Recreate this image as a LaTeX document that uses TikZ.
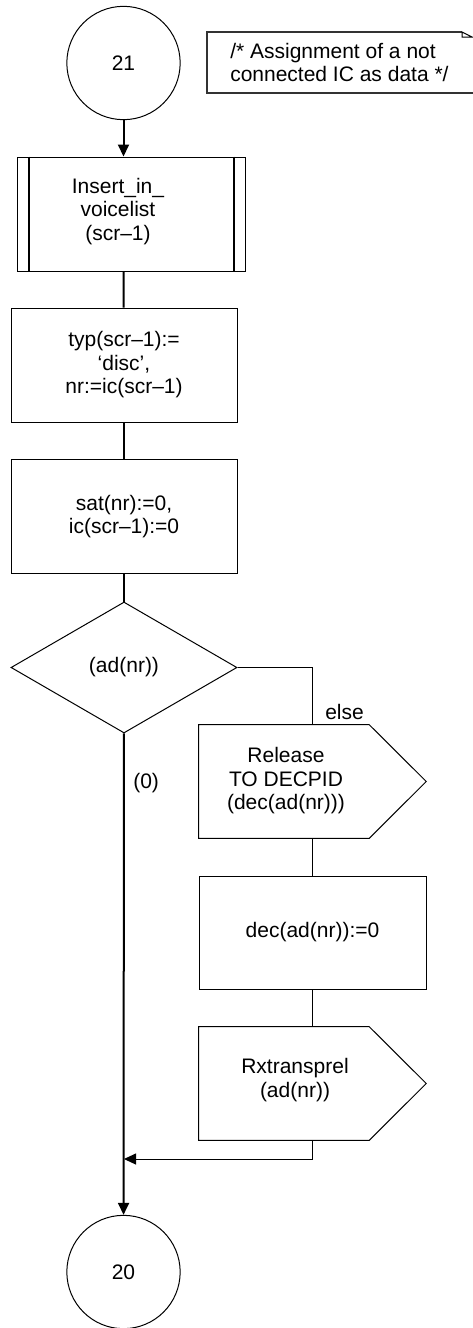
\documentclass[tikz,border=0pt]{standalone}
\usepackage{fontspec}
\setmainfont{Liberation Sans}
\usepackage{tikz}
\usetikzlibrary{arrows.meta,positioning,shapes.geometric}

\tikzset{
  flow/.style={line width=1.5pt},
  thin line/.style={line width=0.75pt},
  flowarrow/.style={-{Triangle[length=9pt,width=8.25pt]}},
  stepbox/.style={draw, line width=0.75pt, rectangle, inner sep=0pt,
    minimum width=169.5pt, minimum height=85pt, align=center},
  connector/.style={draw, line width=0.75pt, circle, inner sep=0pt, minimum size=85pt},
  decision/.style={draw, line width=0.75pt, diamond, inner sep=0pt,
    minimum width=169.5pt, minimum height=98.25pt},
  sigbox/.style={rectangle, inner sep=0pt, minimum width=170.25pt, minimum height=84.75pt},
  txt/.style={align=center, inner sep=0pt}
}

\begin{document}
\begin{tikzpicture}[x=0.75pt, y=-0.75pt, font=\fontsize{15.75pt}{17.6pt}\selectfont]
    \useasboundingbox (0,0) rectangle (472,1328);

    % connectors in and out
    \node[connector] (c21) at (123.5,63) {21};
    \node[connector] (c20) at (123.5,1272) {20};

    % comment
    \draw[line width=1pt, draw=black!80] (462,32) -- (207,32) -- (207,93) -- (480,93);
    \draw[line width=0.75pt] (462,32) -- (462,37) -- (472,37) -- cycle;
    \node[anchor=west, align=left, inner sep=0pt] (note) at (230,62.5)
      {/* Assignment of a not\\connected IC as data */};

    % main column
    \node[stepbox, minimum width=171pt, minimum height=85.5pt] (ins) at (131,214) {};
    \draw[line width=1.5pt] ([xshift=9pt]ins.north west) -- ([xshift=9pt]ins.south west);
    \draw[line width=1.5pt] ([xshift=-9pt]ins.north east) -- ([xshift=-9pt]ins.south east);
    \node[txt] (insT) at (118,211.5) {Insert\_in\_\\voicelist\\(scr--1)};

    \node[stepbox, minimum height=85.5pt] (typ) at (124,365) {typ(scr--1):=\\`disc',\\nr:=ic(scr--1)};
    \node[stepbox] (sat) at (124,516.5) {sat(nr):=0,\\ic(scr--1):=0};
    \node[decision] (dec) at (124,667.5) {(ad(nr))};

    % else branch
    \node[sigbox] (rel) at (312.5,781.5) {};
    \draw[thin line] (rel.north west) -- ([xshift=-42.75pt]rel.north east) -- (rel.east)
      -- ([xshift=-42.75pt]rel.south east) -- (rel.south west) -- cycle;
    \node[txt] (relT) at (286,781) {Release\\TO DECPID\\(dec(ad(nr)))};

    \node[stepbox, minimum width=170.25pt, minimum height=84.75pt] (dz) at (312.5,932.5) {dec(ad(nr)):=0};

    \node[sigbox] (rx) at (312.5,1083.5) {};
    \draw[thin line] (rx.north west) -- ([xshift=-42.75pt]rx.north east) -- (rx.east)
      -- ([xshift=-42.75pt]rx.south east) -- (rx.south west) -- cycle;
    \node[txt] (rxT) at (295,1080) {Rxtransprel\\(ad(nr))};

    \coordinate (join) at (124,1159);

    % flow lines
    \draw[flow, flowarrow] (c21) -- (c21 |- ins.north);
    \draw[flow] (c21 |- ins.south) -- (typ);
    \draw[flow] (typ) -- (sat);
    \draw[flow] (sat) -- (dec);
    \draw[flow, flowarrow] (dec) -- (c20);
    \draw[thin line] (dec.east) -| (rel.north);
    \draw[thin line] (rel) -- (dz);
    \draw[thin line] (dz) -- (rx);
    \draw[thin line, flowarrow] (rx.south) |- (join);

    % branch labels
    \node[anchor=west, inner sep=0pt] (lelse) at (325,712) {else};
    \node[anchor=west, inner sep=0pt] (lzero) at (133,783) {(0)};
\end{tikzpicture}
\end{document}
